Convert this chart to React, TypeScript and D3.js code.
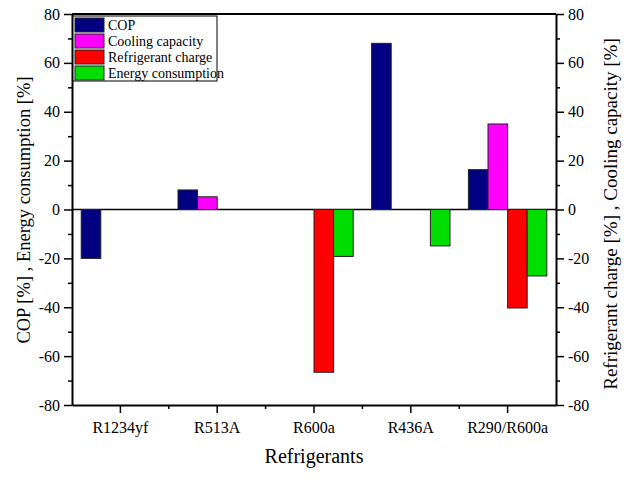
import React, { useEffect, useRef } from "react";
import * as d3 from "d3";

const refrigerants = ["R1234yf", "R513A", "R600a", "R436A", "R290/R600a"];
const seriesNames = ["COP", "Cooling capacity", "Refrigerant charge", "Energy consumption"];
const seriesColors = ["#000080", "#FF00FF", "#FF0000", "#00DD00"];

// values per refrigerant, null where no bar is drawn
const copValues = [-20, 8, null, 68, 16.3];
const coolingValues = [null, 5.2, null, null, 35];
const chargeValues = [null, null, -66.6, null, -40.3];
const energyValues = [null, null, -19.2, -14.9, -27.2];

const yTicks = [-80, -60, -40, -20, 0, 20, 40, 60, 80];
const yMinorTicks = [-70, -50, -30, -10, 10, 30, 50, 70];

interface Bar {
  group: string;
  series: string;
  value: number;
}

const FONT = "Liberation Serif";

const App: React.FC = () => {
  const svgRef = useRef<SVGSVGElement | null>(null);

  useEffect(() => {
    if (!svgRef.current) return;
    const width = 640;
    const height = 489;
    const margin = { top: 14, right: 84, bottom: 84, left: 72 };

    const svg = d3.select(svgRef.current);
    svg.selectAll("*").remove();

    const allValues = [copValues, coolingValues, chargeValues, energyValues];
    const bars: Bar[] = [];
    refrigerants.forEach((r, i) => {
      seriesNames.forEach((s, j) => {
        const v = allValues[j][i];
        if (v !== null) bars.push({ group: r, series: s, value: v });
      });
    });

    const x0 = d3
      .scaleBand()
      .domain(refrigerants)
      .range([margin.left, width - margin.right]);

    const x1 = d3
      .scaleBand()
      .domain(seriesNames)
      .range([0, x0.bandwidth()])
      .paddingOuter(0.47);

    const y = d3
      .scaleLinear()
      .domain([-80, 80])
      .range([height - margin.bottom, margin.top]);

    const color = d3.scaleOrdinal<string>().domain(seriesNames).range(seriesColors);

    // zero line
    svg
      .append("line")
      .attr("x1", margin.left)
      .attr("x2", width - margin.right)
      .attr("y1", y(0))
      .attr("y2", y(0))
      .attr("stroke", "black")
      .attr("stroke-width", 1.5);

    // bars
    svg
      .selectAll(".bar")
      .data(bars)
      .join("rect")
      .attr("class", "bar")
      .attr("x", (d) => (x0(d.group) || 0) + (x1(d.series) || 0))
      .attr("width", x1.bandwidth())
      .attr("y", (d) => y(Math.max(0, d.value)))
      .attr("height", (d) => Math.abs(y(d.value) - y(0)))
      .attr("fill", (d) => color(d.series))
      .attr("stroke", "#222")
      .attr("stroke-width", 1);

    // top frame line
    svg
      .append("line")
      .attr("x1", margin.left)
      .attr("x2", width - margin.right)
      .attr("y1", margin.top)
      .attr("y2", margin.top)
      .attr("stroke", "black")
      .attr("stroke-width", 2);

    const styleAxis = (g: any) => {
      g.select(".domain").attr("stroke-width", 2);
      g.selectAll(".tick line").attr("stroke-width", 1.5);
    };

    // left axis (ticks only, labels drawn below)
    const left = svg
      .append("g")
      .attr("transform", `translate(${margin.left},0)`)
      .call(d3.axisLeft(y).tickValues(yTicks).tickSize(8).tickSizeOuter(0).tickFormat(() => ""));
    styleAxis(left);
    svg
      .append("g")
      .attr("transform", `translate(${margin.left},0)`)
      .call(d3.axisLeft(y).tickValues(yMinorTicks).tickSize(4).tickFormat(() => ""))
      .call((g) => g.select(".domain").remove())
      .selectAll("line")
      .attr("stroke-width", 1.5);

    // right axis
    const right = svg
      .append("g")
      .attr("transform", `translate(${width - margin.right},0)`)
      .call(d3.axisRight(y).tickValues(yTicks).tickSize(8).tickSizeOuter(0).tickFormat(() => ""));
    styleAxis(right);
    svg
      .append("g")
      .attr("transform", `translate(${width - margin.right},0)`)
      .call(d3.axisRight(y).tickValues(yMinorTicks).tickSize(4).tickFormat(() => ""))
      .call((g) => g.select(".domain").remove())
      .selectAll("line")
      .attr("stroke-width", 1.5);

    // bottom axis
    const bottom = svg
      .append("g")
      .attr("transform", `translate(0,${height - margin.bottom})`)
      .call(d3.axisBottom(x0).tickSize(8).tickSizeOuter(0).tickFormat(() => ""));
    styleAxis(bottom);
    bottom
      .selectAll(".minor")
      .data(refrigerants.slice(1))
      .join("line")
      .attr("class", "minor")
      .attr("x1", (d) => x0(d) || 0)
      .attr("x2", (d) => x0(d) || 0)
      .attr("y1", 0)
      .attr("y2", 4)
      .attr("stroke", "black")
      .attr("stroke-width", 1.5);

    // tick labels
    const labels = svg.append("g").attr("font-family", FONT).attr("font-size", 16).attr("fill", "black");
    labels
      .selectAll(".yl")
      .data(yTicks)
      .join("text")
      .attr("class", "yl")
      .attr("x", margin.left - 12)
      .attr("y", (d) => y(d))
      .attr("dy", "0.35em")
      .attr("text-anchor", "end")
      .text((d) => d);
    labels
      .selectAll(".yr")
      .data(yTicks)
      .join("text")
      .attr("class", "yr")
      .attr("x", width - margin.right + 12)
      .attr("y", (d) => y(d))
      .attr("dy", "0.35em")
      .text((d) => d);
    labels
      .selectAll(".xl")
      .data(refrigerants)
      .join("text")
      .attr("class", "xl")
      .attr("x", (d) => (x0(d) || 0) + x0.bandwidth() / 2)
      .attr("y", height - margin.bottom + 28)
      .attr("text-anchor", "middle")
      .text((d) => d);

    // axis titles
    svg
      .append("text")
      .attr("x", (margin.left + width - margin.right) / 2)
      .attr("y", 463)
      .attr("text-anchor", "middle")
      .attr("font-family", FONT)
      .attr("font-size", "20px")
      .text("Refrigerants");

    svg
      .append("text")
      .attr("transform", `translate(30,210) rotate(-90)`)
      .attr("text-anchor", "middle")
      .attr("font-family", FONT)
      .attr("font-size", "18.5px")
      .text("COP [%] , Energy consumption [%]");

    svg
      .append("text")
      .attr("transform", `translate(617,214) rotate(-90)`)
      .attr("text-anchor", "middle")
      .attr("font-family", FONT)
      .attr("font-size", "19px")
      .text("Refrigerant charge [%] , Cooling capacity [%]");

    // legend
    const legend = svg.append("g").attr("transform", `translate(${margin.left + 1},${margin.top + 2})`);
    legend
      .append("rect")
      .attr("width", 144)
      .attr("height", 65)
      .attr("fill", "white")
      .attr("stroke", "black")
      .attr("stroke-width", 1);
    seriesNames.forEach((s, i) => {
      const row = legend.append("g").attr("transform", `translate(2,${2 + i * 16})`);
      row
        .append("rect")
        .attr("width", 29)
        .attr("height", 14)
        .attr("fill", color(s))
        .attr("stroke", "#222")
        .attr("stroke-width", 1);
      row
        .append("text")
        .attr("x", 33)
        .attr("y", 12)
        .attr("font-family", FONT)
        .attr("font-size", "14px")
        .text(s);
    });
  }, []);

  return (
    <svg
      ref={svgRef}
      width={640}
      height={489}
      style={{ position: "absolute", left: 0, top: 0, background: "white" }}
    ></svg>
  );
};

export default App;
